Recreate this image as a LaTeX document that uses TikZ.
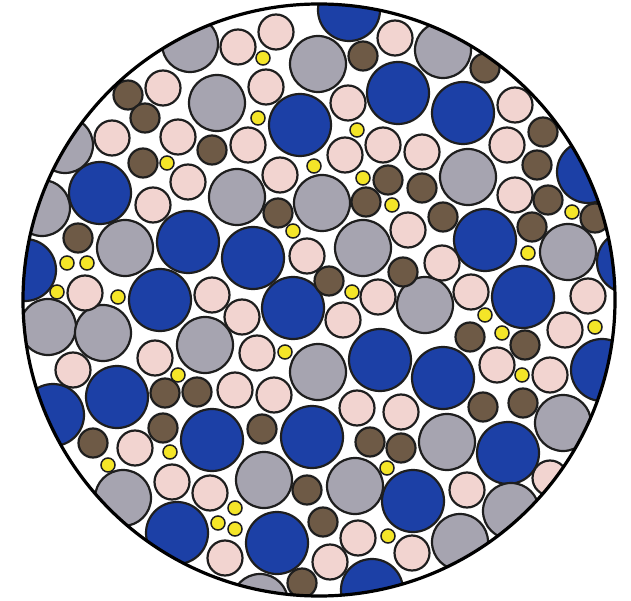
\documentclass[tikz,border=0pt]{standalone}
\definecolor{cblue}{HTML}{1C40A6}
\definecolor{cgray}{HTML}{A6A4B0}
\definecolor{cpink}{HTML}{F2D4D0}
\definecolor{cbrown}{HTML}{6E5A46}
\definecolor{cyellow}{HTML}{F4E528}
\definecolor{cline}{HTML}{1E1E1E}
\tikzset{
  ball/.style={draw=cline, line width=2.2pt},
  bluball/.style={ball, fill=cblue},
  grayball/.style={ball, fill=cgray},
  pinkball/.style={ball, fill=cpink},
  brownball/.style={ball, fill=cbrown},
  yellowball/.style={ball, fill=cyellow, line width=1.5pt},
  rim/.style={draw=black, line width=3.2pt}
}
\begin{document}
\begin{tikzpicture}[x=1pt,y=-1pt]
\useasboundingbox (0,0) rectangle (631,601);
\begin{scope}
\clip (319,300) circle (296);
\fill[white] (319,300) circle (296);
% blue
\foreach \x/\y in {349/10,398/93,463/113,300/125,100/193,588/172,188/242,253/258,485/240,628/262,25/270,160/300,293/308,523/297,380/360,443/378,602/370,117/397,53/415,212/440,312/437,508/453,413/501,177/533,277/543,372/590}
  \path[bluball] (\x,\y) circle (31);
% gray
\foreach \x/\y in {190/44,318/64,443/50,217/103,65/145,468/177,42/208,237/197,322/203,363/248,568/252,425/305,48/327,103/333,205/345,318/372,563/423,447/442,264/480,355/486,123/498,511/511,460/542,260/602,125/248}
  \path[grayball] (\x,\y) circle (28);
% pink
\foreach \x/\y in {238/47,276/32,163/88,266/87,112/138,178/137,248/145,188/182,280/175,153/205,307/256,85/293,212/295,242/317,155/358,257/353,73/370,235/390,274/395,135/448,172/482,210/493,225/558,395/38,348/103,515/105,383/145,422/152,507/145,345/155,515/195,408/230,442/263,378/297,471/292,588/296,343/320,565/330,497/365,550/375,357/408,401/412,467/490,550/478,358/538,412/553,330/562}
  \path[pinkball] (\x,\y) circle (17.5);
% brown
\foreach \x/\y in {128/95,145/118,212/150,143/163,278/213,78/238,165/393,197/392,163/428,262/429,93/443,302/583,363/56,485/68,543/132,537/165,388/180,422/188,366/202,548/200,595/218,443/217,532/227,403/272,329/281,470/337,525/345,483/407,523/403,370/442,401/448,307/490,323/522}
  \path[brownball] (\x,\y) circle (14.5);
% yellow
\foreach \x/\y in {263/58,258/118,167/163,314/166,293/231,67/263,87/263,57/292,118/297,178/375,285/352,170/452,108/465,235/508,218/523,235/529,357/130,363/178,392/205,572/212,528/253,352/292,485/315,502/333,595/327,522/375,387/468,388/536}
  \path[yellowball] (\x,\y) circle (7);
\end{scope}
\path[rim] (319,300) circle (296);
\end{tikzpicture}
\end{document}
